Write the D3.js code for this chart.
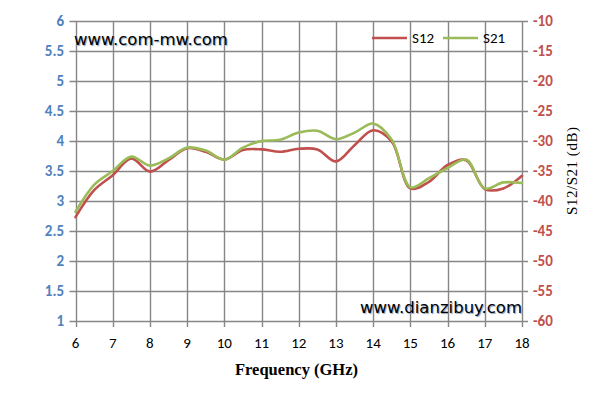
<!DOCTYPE html>
<html><head><meta charset="utf-8">
<script src="https://cdn.jsdelivr.net/npm/d3@7"></script>
<style>body{margin:0;background:#fff}svg{display:block}</style>
</head><body>
<script>
const freq = [6,6.5,7,7.5,8,8.5,9,9.5,10,10.5,11,11.5,12,12.5,13,13.5,14,14.5,15,15.5,16,16.5,17,17.5,18];
const s12 = [-42.7,-38.2,-35.7,-32.9,-35.1,-33.2,-31.2,-31.8,-33.1,-31.5,-31.4,-31.8,-31.3,-31.4,-33.4,-30.7,-28.2,-30.1,-37.9,-36.8,-34.0,-33.2,-38.0,-37.9,-35.8];
const s21 = [-41.8,-37.3,-35.0,-32.6,-34.1,-32.9,-31.1,-31.6,-33.1,-31.1,-30.0,-29.8,-28.6,-28.3,-29.7,-28.6,-27.1,-29.8,-37.7,-36.2,-34.5,-33.1,-37.9,-36.9,-37.0];
const xTicks = [6,7,8,9,10,11,12,13,14,15,16,17,18];
const leftTicks = [1,1.5,2,2.5,3,3.5,4,4.5,5,5.5,6];
const rightTicks = [-60,-55,-50,-45,-40,-35,-30,-25,-20,-15,-10];
const seriesNames = ["S12","S21"];
const seriesColors = ["#C0504D","#9BBB59"];

const W=595,H=402;
const L=75.5,R=522,T=21,B=321;
const svg=d3.select("body").append("svg").attr("width",W).attr("height",H);
const x=d3.scaleLinear().domain([6,18]).range([L,R]);
const yl=d3.scaleLinear().domain([1,6]).range([B,T]);
const yr=d3.scaleLinear().domain([-60,-10]).range([B,T]);
const gridCol="#868686";
const font="Carlito, 'Open Sans', 'Liberation Sans', sans-serif";
const serif="'Liberation Serif', 'DejaVu Serif', serif";

// grid
svg.append("g").selectAll("line").data(leftTicks).join("line")
  .attr("x1",L-6).attr("x2",R+6).attr("y1",d=>Math.round(yl(d))+0.5).attr("y2",d=>Math.round(yl(d))+0.5)
  .attr("stroke",gridCol).attr("stroke-width",1.4);
svg.append("g").selectAll("line").data(xTicks).join("line")
  .attr("x1",d=>Math.round(x(d))+0.5).attr("x2",d=>Math.round(x(d))+0.5).attr("y1",T).attr("y2",B+6)
  .attr("stroke",gridCol).attr("stroke-width",1.4);

// axes labels
svg.append("g").selectAll("text").data(leftTicks).join("text")
  .attr("x",64).attr("y",d=>yl(d)).attr("dy","0.36em").attr("text-anchor","end")
  .attr("font-family",font).attr("font-weight","bold").attr("font-size",15).attr("fill","#4F81BD")
  .text(d=>d);
svg.append("g").selectAll("text").data(rightTicks).join("text")
  .attr("x",533).attr("y",d=>yr(d)).attr("dy","0.36em").attr("text-anchor","start")
  .attr("font-family",font).attr("font-weight","bold").attr("font-size",15).attr("fill","#C0504D")
  .text(d=>d);
svg.append("g").selectAll("text").data(xTicks).join("text")
  .attr("x",d=>x(d)).attr("y",343).attr("dy","0.36em").attr("text-anchor","middle")
  .attr("font-family",font).attr("font-size",15).attr("fill","#000")
  .text(d=>d);

// titles
svg.append("text").attr("x",235).attr("y",375)
  .attr("font-family",serif).attr("font-weight","bold").attr("font-size",16.5)
  .attr("textLength",123).attr("lengthAdjust","spacing")
  .text("Frequency (GHz)");
svg.append("text").attr("transform","translate(577,171) rotate(-90)").attr("text-anchor","middle")
  .attr("font-family",serif).attr("font-size",15)
  .attr("textLength",88).attr("lengthAdjust","spacing")
  .text("S12/S21 (dB)");

// lines
const line=d3.line().x((d,i)=>x(freq[i])).y(d=>yr(d)).curve(d3.curveCatmullRom.alpha(0.5));
[s12,s21].forEach((s,k)=>{
  svg.append("path").attr("d",line(s)).attr("fill","none").attr("stroke",seriesColors[k])
    .attr("stroke-width",2.6).attr("stroke-linejoin","round").attr("stroke-linecap","round");
});

// legend
const lg=svg.append("g");
[[372,412],[443,483]].forEach((p,k)=>{
  lg.append("line").attr("x1",p[0]).attr("x2",p[0]+35).attr("y1",38).attr("y2",38)
    .attr("stroke",seriesColors[k]).attr("stroke-width",2.6);
  lg.append("text").attr("x",p[1]).attr("y",38).attr("dy","0.36em")
    .attr("font-family",font).attr("font-size",15).text(seriesNames[k]);
});

// watermarks
const wm="'DejaVu Sans', Verdana, sans-serif";
svg.append("text").attr("x",74).attr("y",45).attr("font-family",wm).attr("font-size",16.5)
  .style("text-shadow","1px 1px 1px #8aa0b8").text("www.com-mw.com");
svg.append("text").attr("x",522).attr("y",313).attr("text-anchor","end").attr("font-family",wm).attr("font-size",16.5)
  .style("text-shadow","1px 1px 1px #8aa0b8").text("www.dianzibuy.com");
</script>
</body></html>
